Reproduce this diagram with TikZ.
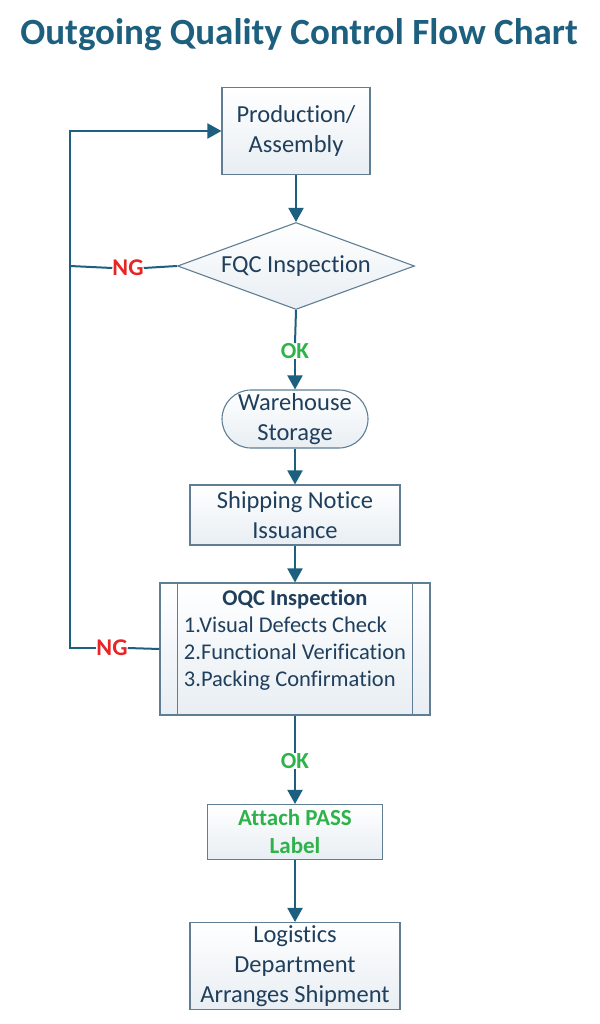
\documentclass[tikz,border=0pt]{standalone}
\usepackage{fontspec}
\setmainfont[Ligatures=NoCommon]{Carlito}
\usetikzlibrary{arrows.meta,shapes.geometric,shapes.misc}
\definecolor{flowteal}{HTML}{1C5F7E}
\definecolor{boxline}{HTML}{5F7E94}
\definecolor{boxtext}{HTML}{1F3F5C}
\definecolor{boxfill}{HTML}{E8EEF3}
\definecolor{ngred}{HTML}{E82424}
\definecolor{okgreen}{HTML}{2DB34A}
\begin{document}
\begin{tikzpicture}[x=1pt,y=-1pt]
                \tikzstyle{every node}+=[inner sep=0pt]
                \tikzstyle{stepbox}=[draw=boxline, line width=1.1pt, top color=white, bottom color=boxfill, text=boxtext, align=center, font=\fontsize{24.5}{30}\selectfont]
                \tikzstyle{flow}=[draw=flowteal, line width=2pt]
                \tikzstyle{flowarrow}=[flow, -{Triangle[width=15,length=14]}]
                \tikzstyle{nglabel}=[text=ngred, font=\fontsize{24}{28}\selectfont\bfseries]
                \tikzstyle{oklabel}=[text=okgreen, font=\fontsize{23}{27}\selectfont\bfseries]
                \useasboundingbox (0,0) rectangle (599,1024);
                % title
                \node (title) at (299,35) [text=flowteal, font=\fontsize{37}{42}\selectfont\bfseries] {Outgoing Quality Control Flow Chart};
                % process steps
                \node (prod) at (296,131) [stepbox, minimum width=148, minimum height=87] {Production/\\Assembly};
                \node (fqc) at (296,266) [stepbox, diamond, aspect=2.72, minimum width=237, minimum height=87] {FQC Inspection};
                \node (ok1) at (295,351) [oklabel] {OK};
                \node (wh) at (295,419) [stepbox, rounded rectangle, minimum width=146, minimum height=58] {Warehouse\\Storage};
                \node (ship) at (295,515) [stepbox, minimum width=210, minimum height=60] {Shipping Notice\\Issuance};
                \node (oqc) at (295,649) [stepbox, minimum width=270, minimum height=132, font=\fontsize{22.5}{27}\selectfont] {\begin{tabular}{@{}l@{}}\multicolumn{1}{c}{\bfseries OQC Inspection}\\1.Visual Defects Check\\2.Functional Verification\\3.Packing Confirmation\\[16pt]\end{tabular}};
                \draw [boxline, line width=1.1pt] ([xshift=18]oqc.north west) -- ([xshift=18]oqc.south west);
                \draw [boxline, line width=1.1pt] ([xshift=-18]oqc.north east) -- ([xshift=-18]oqc.south east);
                \node (ok2) at (295,761) [oklabel] {OK};
                \node (pass) at (295,832) [stepbox, minimum width=175, minimum height=55, text=okgreen, font=\fontsize{23}{28}\selectfont\bfseries] {Attach PASS\\Label};
                \node (logi) at (295,966) [stepbox, minimum width=210, minimum height=87] {Logistics\\Department\\Arranges Shipment};
                % rejects
                \node (ng1) at (128,268) [nglabel] {NG};
                \node (ng2) at (112,648) [nglabel] {NG};
                \coordinate (back1) at (70,266);
                \coordinate (back2) at (70,648);
                % main flow
                \draw [flowarrow] (prod.south) -- (fqc.north);
                \draw [flow] (fqc.south) -- (ok1.north);
                \draw [flowarrow] (ok1.south) -- (wh.north);
                \draw [flowarrow] (wh.south) -- (ship.north);
                \draw [flowarrow] (ship.south) -- (oqc.north);
                \draw [flow] (oqc.south) -- (ok2.north);
                \draw [flowarrow] (ok2.south) -- (pass.north);
                \draw [flowarrow] (pass.south) -- (logi.north);
                % feedback loop
                \draw [flow] (fqc.west) -- (ng1.east);
                \draw [flow] (ng1.west) -- (back1);
                \draw [flow] (oqc.west) -- (ng2.east);
                \draw [flowarrow] (ng2.west) -- (back2) |- (prod.west);
\end{tikzpicture}
\end{document}
